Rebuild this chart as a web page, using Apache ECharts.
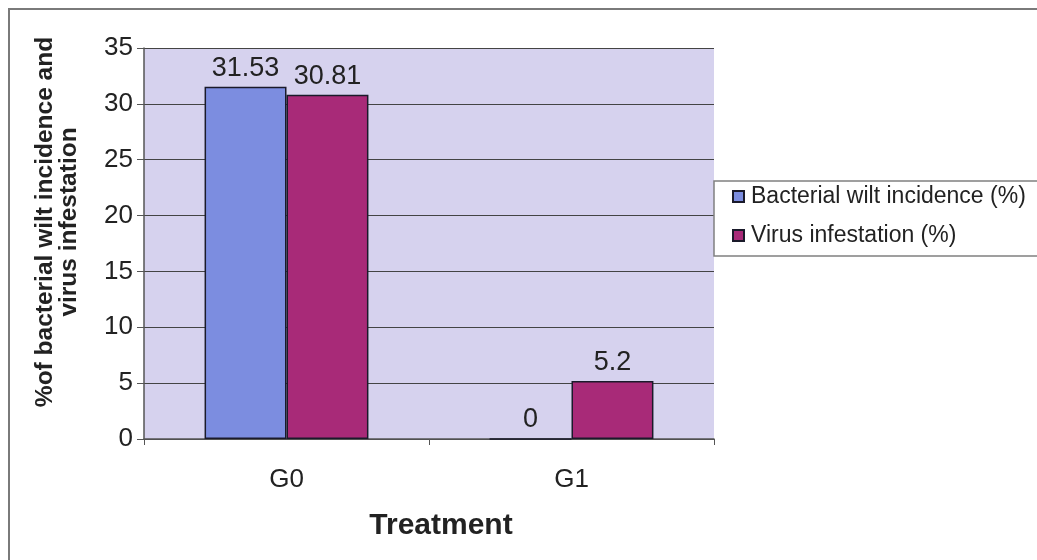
<!DOCTYPE html>
<html>
<head>
<meta charset="utf-8">
<script src="https://cdn.jsdelivr.net/npm/echarts@6/dist/echarts.min.js"></script>
<style>
html,body{margin:0;padding:0;background:#fff;}
#chart{width:1037px;height:560px;}
</style>
</head>
<body>
<div id="chart"></div>
<script>
// Treatment groups and measured percentages
const categories = ['G0', 'G1'];
const bacterialWilt = [31.53, 0];
const virusInfestation = [30.81, 5.2];
const seriesNames = ['Bacterial wilt incidence (%)', 'Virus infestation (%)'];
const yTitle = '%of bacterial wilt incidence and\nvirus infestation';

const FONT = '"Liberation Sans", Arial, sans-serif';
const chart = echarts.init(document.getElementById('chart'));

const labelStyle = {
  show: true,
  position: 'top',
  fontFamily: FONT,
  fontSize: 27,
  color: '#222',
  distance: 5
};

chart.setOption({
  animation: false,
  backgroundColor: '#ffffff',
  textStyle: { fontFamily: FONT },
  graphic: [
    {
      // outer frame (top and left edges)
      type: 'polyline',
      shape: { points: [[9, 600], [9, 9], [1100, 9]] },
      style: { stroke: '#7a7a7a', lineWidth: 2, fill: null },
      silent: true
    },
    {
      // vertical value-axis title
      type: 'text',
      x: 57,
      y: 222,
      rotation: Math.PI / 2,
      style: {
        text: yTitle,
        fontFamily: FONT,
        fontSize: 24.5,
        fontWeight: 'bold',
        lineHeight: 24,
        fill: '#222',
        align: 'center',
        verticalAlign: 'middle'
      },
      silent: true
    }
  ],
  grid: { left: 144, right: 323, top: 48, bottom: 121, show: true, backgroundColor: '#d6d2ee', borderWidth: 0 },
  legend: {
    orient: 'vertical',
    left: 714,
    top: 181,
    padding: [4, 80, 9, 18],
    itemWidth: 11,
    itemHeight: 11,
    itemGap: 16,
    icon: 'rect',
    backgroundColor: '#ffffff',
    borderColor: '#808080',
    borderWidth: 1.5,
    textStyle: { fontFamily: FONT, fontSize: 23, color: '#222', padding: [0, 0, 0, 2] },
    data: seriesNames
  },
  xAxis: {
    type: 'category',
    data: categories,
    name: 'Treatment',
    nameLocation: 'middle',
    nameGap: 72,
    nameTextStyle: { fontFamily: FONT, fontSize: 30, fontWeight: 'bold', color: '#222', padding: [0, 0, 0, 24] },
    axisLine: { lineStyle: { color: '#555', width: 1.5 } },
    axisTick: { show: true, length: 6, lineStyle: { color: '#555' } },
    axisLabel: { fontFamily: FONT, fontSize: 26, color: '#222', margin: 28 },
    splitLine: { show: false }
  },
  yAxis: {
    type: 'value',
    min: 0,
    max: 35,
    interval: 5,
    axisLine: { show: true, lineStyle: { color: '#555', width: 1.5 } },
    axisTick: { show: true, length: 7, lineStyle: { color: '#555' } },
    axisLabel: { fontFamily: FONT, fontSize: 26, color: '#222', margin: 11 },
    splitLine: { show: true, lineStyle: { color: '#444', width: 1 } }
  },
  series: [
    {
      name: seriesNames[0],
      type: 'bar',
      data: bacterialWilt,
      barGap: '0%',
      barCategoryGap: '42.5%',
      itemStyle: { color: '#7c8de0', borderColor: '#1a1a2a', borderWidth: 1.5 },
      label: labelStyle
    },
    {
      name: seriesNames[1],
      type: 'bar',
      data: virusInfestation,
      barGap: '0%',
      barCategoryGap: '42.5%',
      itemStyle: { color: '#a82a78', borderColor: '#1a1a2a', borderWidth: 1.5 },
      label: labelStyle
    }
  ]
});
</script>
</body>
</html>
